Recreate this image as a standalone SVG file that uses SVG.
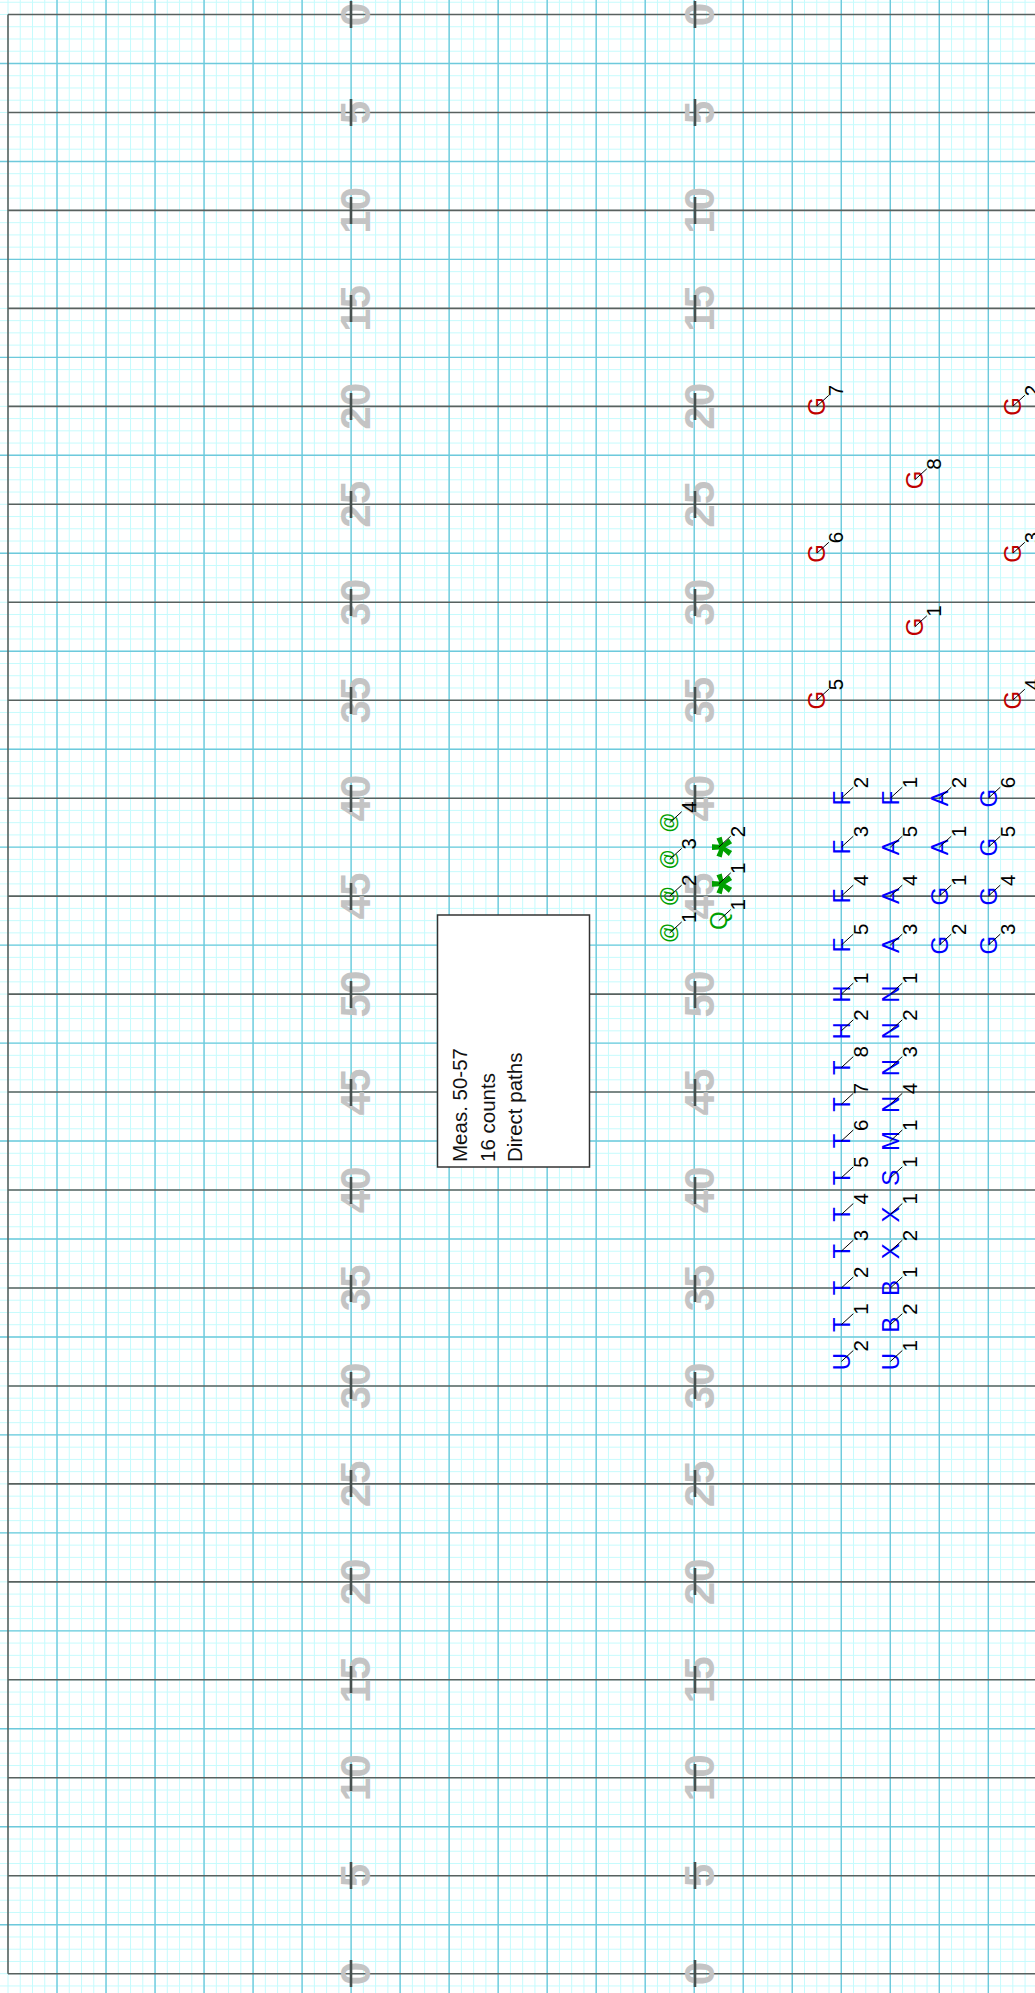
<svg xmlns="http://www.w3.org/2000/svg" width="1035" height="1993" viewBox="0 0 1035 1993">
<style>
.g path{fill:none;vector-effect:non-scaling-stroke}
.minor{stroke:#c6fbfd;stroke-width:1}
.med{stroke:#6ec9dc;stroke-width:1.4}
.yard{stroke:#59615f;stroke-width:1.6}
.tick{stroke:#46504f;stroke-width:2.6;fill:none}
.num{font-family:"Liberation Sans",Arial,sans-serif;font-weight:bold;font-size:42px;fill:#c4c4c4;text-anchor:middle}
.lt{font-family:"Liberation Sans",Arial,sans-serif;font-size:24px;text-anchor:middle}
.at{font-family:"Liberation Sans",Arial,sans-serif;font-size:20px;text-anchor:middle}
.ast{font-family:"Liberation Sans",Arial,sans-serif;font-weight:bold;font-size:54px;text-anchor:middle}
.red{fill:#c00000}.blue{fill:#0000ff}.grn{fill:#00a000}
.nm{font-family:"Liberation Sans",Arial,sans-serif;font-size:20.5px;fill:#000}
.ld{stroke:#000;stroke-width:1}
.box{fill:#fff;stroke:#333;stroke-width:1.5}
.bt{font-family:"Liberation Sans",Arial,sans-serif;font-size:20.5px;fill:#111}
</style>
<defs>
<g id="L-r"><line class="ld" x1="0" y1="0" x2="12" y2="-11"/></g>
</defs>
<rect width="1035" height="1993" fill="#fff"/>
<g id="grid" class="g" transform="translate(8,14.5) scale(12.254,12.245)">
<path class="minor" d="M-1 -1H85M-1 0H85M-1 1H85M-1 2H85M-1 3H85M-1 4H85M-1 5H85M-1 6H85M-1 7H85M-1 8H85M-1 9H85M-1 10H85M-1 11H85M-1 12H85M-1 13H85M-1 14H85M-1 15H85M-1 16H85M-1 17H85M-1 18H85M-1 19H85M-1 20H85M-1 21H85M-1 22H85M-1 23H85M-1 24H85M-1 25H85M-1 26H85M-1 27H85M-1 28H85M-1 29H85M-1 30H85M-1 31H85M-1 32H85M-1 33H85M-1 34H85M-1 35H85M-1 36H85M-1 37H85M-1 38H85M-1 39H85M-1 40H85M-1 41H85M-1 42H85M-1 43H85M-1 44H85M-1 45H85M-1 46H85M-1 47H85M-1 48H85M-1 49H85M-1 50H85M-1 51H85M-1 52H85M-1 53H85M-1 54H85M-1 55H85M-1 56H85M-1 57H85M-1 58H85M-1 59H85M-1 60H85M-1 61H85M-1 62H85M-1 63H85M-1 64H85M-1 65H85M-1 66H85M-1 67H85M-1 68H85M-1 69H85M-1 70H85M-1 71H85M-1 72H85M-1 73H85M-1 74H85M-1 75H85M-1 76H85M-1 77H85M-1 78H85M-1 79H85M-1 80H85M-1 81H85M-1 82H85M-1 83H85M-1 84H85M-1 85H85M-1 86H85M-1 87H85M-1 88H85M-1 89H85M-1 90H85M-1 91H85M-1 92H85M-1 93H85M-1 94H85M-1 95H85M-1 96H85M-1 97H85M-1 98H85M-1 99H85M-1 100H85M-1 101H85M-1 102H85M-1 103H85M-1 104H85M-1 105H85M-1 106H85M-1 107H85M-1 108H85M-1 109H85M-1 110H85M-1 111H85M-1 112H85M-1 113H85M-1 114H85M-1 115H85M-1 116H85M-1 117H85M-1 118H85M-1 119H85M-1 120H85M-1 121H85M-1 122H85M-1 123H85M-1 124H85M-1 125H85M-1 126H85M-1 127H85M-1 128H85M-1 129H85M-1 130H85M-1 131H85M-1 132H85M-1 133H85M-1 134H85M-1 135H85M-1 136H85M-1 137H85M-1 138H85M-1 139H85M-1 140H85M-1 141H85M-1 142H85M-1 143H85M-1 144H85M-1 145H85M-1 146H85M-1 147H85M-1 148H85M-1 149H85M-1 150H85M-1 151H85M-1 152H85M-1 153H85M-1 154H85M-1 155H85M-1 156H85M-1 157H85M-1 158H85M-1 159H85M-1 160H85M-1 161H85"/>
<path class="minor" d="M-1 -2V163M0 -2V163M1 -2V163M2 -2V163M3 -2V163M4 -2V163M5 -2V163M6 -2V163M7 -2V163M8 -2V163M9 -2V163M10 -2V163M11 -2V163M12 -2V163M13 -2V163M14 -2V163M15 -2V163M16 -2V163M17 -2V163M18 -2V163M19 -2V163M20 -2V163M21 -2V163M22 -2V163M23 -2V163M24 -2V163M25 -2V163M26 -2V163M27 -2V163M28 -2V163M29 -2V163M30 -2V163M31 -2V163M32 -2V163M33 -2V163M34 -2V163M35 -2V163M36 -2V163M37 -2V163M38 -2V163M39 -2V163M40 -2V163M41 -2V163M42 -2V163M43 -2V163M44 -2V163M45 -2V163M46 -2V163M47 -2V163M48 -2V163M49 -2V163M50 -2V163M51 -2V163M52 -2V163M53 -2V163M54 -2V163M55 -2V163M56 -2V163M57 -2V163M58 -2V163M59 -2V163M60 -2V163M61 -2V163M62 -2V163M63 -2V163M64 -2V163M65 -2V163M66 -2V163M67 -2V163M68 -2V163M69 -2V163M70 -2V163M71 -2V163M72 -2V163M73 -2V163M74 -2V163M75 -2V163M76 -2V163M77 -2V163M78 -2V163M79 -2V163M80 -2V163M81 -2V163M82 -2V163M83 -2V163"/>
<path class="med" d="M-1 4H85M-1 12H85M-1 20H85M-1 28H85M-1 36H85M-1 44H85M-1 52H85M-1 60H85M-1 68H85M-1 76H85M-1 84H85M-1 92H85M-1 100H85M-1 108H85M-1 116H85M-1 124H85M-1 132H85M-1 140H85M-1 148H85M-1 156H85"/>
<path class="med" d="M4 -2V163M8 -2V163M12 -2V163M16 -2V163M20 -2V163M24 -2V163M28 -2V163M32 -2V163M36 -2V163M40 -2V163M44 -2V163M48 -2V163M52 -2V163M56 -2V163M60 -2V163M64 -2V163M68 -2V163M72 -2V163M76 -2V163M80 -2V163"/>
<path class="yard" d="M0 0H85M0 8H85M0 16H85M0 24H85M0 32H85M0 40H85M0 48H85M0 56H85M0 64H85M0 72H85M0 80H85M0 88H85M0 96H85M0 104H85M0 112H85M0 120H85M0 128H85M0 136H85M0 144H85M0 152H85M0 160H85M0 0V160"/>
</g>
<g id="yard-numbers" class="num">
<text transform="translate(370,14.5) rotate(-90)">0</text>
<text transform="translate(370,112.5) rotate(-90)">5</text>
<text transform="translate(370,210.4) rotate(-90)">10</text>
<text transform="translate(370,308.4) rotate(-90)">15</text>
<text transform="translate(370,406.3) rotate(-90)">20</text>
<text transform="translate(370,504.3) rotate(-90)">25</text>
<text transform="translate(370,602.3) rotate(-90)">30</text>
<text transform="translate(370,700.2) rotate(-90)">35</text>
<text transform="translate(370,798.2) rotate(-90)">40</text>
<text transform="translate(370,896.1) rotate(-90)">45</text>
<text transform="translate(370,994.1) rotate(-90)">50</text>
<text transform="translate(370,1092.1) rotate(-90)">45</text>
<text transform="translate(370,1190) rotate(-90)">40</text>
<text transform="translate(370,1288) rotate(-90)">35</text>
<text transform="translate(370,1385.9) rotate(-90)">30</text>
<text transform="translate(370,1483.9) rotate(-90)">25</text>
<text transform="translate(370,1581.9) rotate(-90)">20</text>
<text transform="translate(370,1679.8) rotate(-90)">15</text>
<text transform="translate(370,1777.8) rotate(-90)">10</text>
<text transform="translate(370,1875.7) rotate(-90)">5</text>
<text transform="translate(370,1973.7) rotate(-90)">0</text>
<text transform="translate(714,14.5) rotate(-90)">0</text>
<text transform="translate(714,112.5) rotate(-90)">5</text>
<text transform="translate(714,210.4) rotate(-90)">10</text>
<text transform="translate(714,308.4) rotate(-90)">15</text>
<text transform="translate(714,406.3) rotate(-90)">20</text>
<text transform="translate(714,504.3) rotate(-90)">25</text>
<text transform="translate(714,602.3) rotate(-90)">30</text>
<text transform="translate(714,700.2) rotate(-90)">35</text>
<text transform="translate(714,798.2) rotate(-90)">40</text>
<text transform="translate(714,896.1) rotate(-90)">45</text>
<text transform="translate(714,994.1) rotate(-90)">50</text>
<text transform="translate(714,1092.1) rotate(-90)">45</text>
<text transform="translate(714,1190) rotate(-90)">40</text>
<text transform="translate(714,1288) rotate(-90)">35</text>
<text transform="translate(714,1385.9) rotate(-90)">30</text>
<text transform="translate(714,1483.9) rotate(-90)">25</text>
<text transform="translate(714,1581.9) rotate(-90)">20</text>
<text transform="translate(714,1679.8) rotate(-90)">15</text>
<text transform="translate(714,1777.8) rotate(-90)">10</text>
<text transform="translate(714,1875.7) rotate(-90)">5</text>
<text transform="translate(714,1973.7) rotate(-90)">0</text>
</g>
<g id="hash-ticks">
<path class="tick" d="M351 1v27M351 99v27M351 197v27M351 295v27M351 393v27M351 491v27M351 589v27M351 687v27M351 785v27M351 883v27M351 981v27M351 1079v27M351 1177v27M351 1275v27M351 1372v27M351 1470v27M351 1568v27M351 1666v27M351 1764v27M351 1862v27M351 1960v27"/>
<path class="tick" d="M695 1v27M695 99v27M695 197v27M695 295v27M695 393v27M695 491v27M695 589v27M695 687v27M695 785v27M695 883v27M695 981v27M695 1079v27M695 1177v27M695 1275v27M695 1372v27M695 1470v27M695 1568v27M695 1666v27M695 1764v27M695 1862v27M695 1960v27"/>
</g>
<g id="note-box">
<rect class="box" x="437.5" y="915" width="152" height="252"/>
<text class="bt" transform="translate(466.7,1162) rotate(-90)">Meas. 50-57</text>
<text class="bt" transform="translate(494.5,1162) rotate(-90)">16 counts</text>
<text class="bt" transform="translate(522.3,1162) rotate(-90)">Direct paths</text>
</g>
<g id="performers">
<g id="rG7" transform="translate(816.8,406.3)"><text class="lt red" transform="translate(8.6,0) rotate(-90)">G</text><use href="#L-r"/><text class="nm" transform="translate(26.5,-10) rotate(-90)">7</text></g>
<g id="rG6" transform="translate(816.8,553.3)"><text class="lt red" transform="translate(8.6,0) rotate(-90)">G</text><use href="#L-r"/><text class="nm" transform="translate(26.5,-10) rotate(-90)">6</text></g>
<g id="rG5" transform="translate(816.8,700.2)"><text class="lt red" transform="translate(8.6,0) rotate(-90)">G</text><use href="#L-r"/><text class="nm" transform="translate(26.5,-10) rotate(-90)">5</text></g>
<g id="rG8" transform="translate(914.8,479.8)"><text class="lt red" transform="translate(8.6,0) rotate(-90)">G</text><use href="#L-r"/><text class="nm" transform="translate(26.5,-10) rotate(-90)">8</text></g>
<g id="rG1" transform="translate(914.8,626.8)"><text class="lt red" transform="translate(8.6,0) rotate(-90)">G</text><use href="#L-r"/><text class="nm" transform="translate(26.5,-10) rotate(-90)">1</text></g>
<g id="rG2" transform="translate(1012.8,406.3)"><text class="lt red" transform="translate(8.6,0) rotate(-90)">G</text><use href="#L-r"/><text class="nm" transform="translate(26.5,-10) rotate(-90)">2</text></g>
<g id="rG3" transform="translate(1012.8,553.3)"><text class="lt red" transform="translate(8.6,0) rotate(-90)">G</text><use href="#L-r"/><text class="nm" transform="translate(26.5,-10) rotate(-90)">3</text></g>
<g id="rG4" transform="translate(1012.8,700.2)"><text class="lt red" transform="translate(8.6,0) rotate(-90)">G</text><use href="#L-r"/><text class="nm" transform="translate(26.5,-10) rotate(-90)">4</text></g>

<g id="at4" transform="translate(669.7,822.7)"><text class="at grn" transform="translate(5.2,0) rotate(-90)">@</text><use href="#L-r"/><text class="nm" transform="translate(26.5,-10) rotate(-90)">4</text></g>
<g id="at3" transform="translate(669.7,859.4)"><text class="at grn" transform="translate(5.2,0) rotate(-90)">@</text><use href="#L-r"/><text class="nm" transform="translate(26.5,-10) rotate(-90)">3</text></g>
<g id="at2" transform="translate(669.7,896.1)"><text class="at grn" transform="translate(5.2,0) rotate(-90)">@</text><use href="#L-r"/><text class="nm" transform="translate(26.5,-10) rotate(-90)">2</text></g>
<g id="at1" transform="translate(669.7,932.9)"><text class="at grn" transform="translate(5.2,0) rotate(-90)">@</text><use href="#L-r"/><text class="nm" transform="translate(26.5,-10) rotate(-90)">1</text></g>
<g id="ast2" transform="translate(718.7,847.2)"><text class="ast grn" transform="translate(30.2,0) rotate(-90)">*</text><use href="#L-r"/><text class="nm" transform="translate(26.5,-10) rotate(-90)">2</text></g>
<g id="ast1" transform="translate(718.7,883.9)"><text class="ast grn" transform="translate(30.2,0) rotate(-90)">*</text><use href="#L-r"/><text class="nm" transform="translate(26.5,-10) rotate(-90)">1</text></g>
<g id="Q1" transform="translate(718.7,920.6)"><text class="lt grn" transform="translate(8.6,0) rotate(-90)">Q</text><use href="#L-r"/><text class="nm" transform="translate(26.5,-10) rotate(-90)">1</text></g>

<g id="F2" transform="translate(841.3,798.2)"><text class="lt blue" transform="translate(8.6,0) rotate(-90)">F</text><use href="#L-r"/><text class="nm" transform="translate(26.5,-10) rotate(-90)">2</text></g>
<g id="F3" transform="translate(841.3,847.2)"><text class="lt blue" transform="translate(8.6,0) rotate(-90)">F</text><use href="#L-r"/><text class="nm" transform="translate(26.5,-10) rotate(-90)">3</text></g>
<g id="F4" transform="translate(841.3,896.1)"><text class="lt blue" transform="translate(8.6,0) rotate(-90)">F</text><use href="#L-r"/><text class="nm" transform="translate(26.5,-10) rotate(-90)">4</text></g>
<g id="F5" transform="translate(841.3,945.1)"><text class="lt blue" transform="translate(8.6,0) rotate(-90)">F</text><use href="#L-r"/><text class="nm" transform="translate(26.5,-10) rotate(-90)">5</text></g>
<g id="H1" transform="translate(841.3,994.1)"><text class="lt blue" transform="translate(8.6,0) rotate(-90)">H</text><use href="#L-r"/><text class="nm" transform="translate(26.5,-10) rotate(-90)">1</text></g>
<g id="H2" transform="translate(841.3,1030.8)"><text class="lt blue" transform="translate(8.6,0) rotate(-90)">H</text><use href="#L-r"/><text class="nm" transform="translate(26.5,-10) rotate(-90)">2</text></g>
<g id="T8" transform="translate(841.3,1067.6)"><text class="lt blue" transform="translate(8.6,0) rotate(-90)">T</text><use href="#L-r"/><text class="nm" transform="translate(26.5,-10) rotate(-90)">8</text></g>
<g id="T7" transform="translate(841.3,1104.3)"><text class="lt blue" transform="translate(8.6,0) rotate(-90)">T</text><use href="#L-r"/><text class="nm" transform="translate(26.5,-10) rotate(-90)">7</text></g>
<g id="T6" transform="translate(841.3,1141)"><text class="lt blue" transform="translate(8.6,0) rotate(-90)">T</text><use href="#L-r"/><text class="nm" transform="translate(26.5,-10) rotate(-90)">6</text></g>
<g id="T5" transform="translate(841.3,1177.8)"><text class="lt blue" transform="translate(8.6,0) rotate(-90)">T</text><use href="#L-r"/><text class="nm" transform="translate(26.5,-10) rotate(-90)">5</text></g>
<g id="T4" transform="translate(841.3,1214.5)"><text class="lt blue" transform="translate(8.6,0) rotate(-90)">T</text><use href="#L-r"/><text class="nm" transform="translate(26.5,-10) rotate(-90)">4</text></g>
<g id="T3" transform="translate(841.3,1251.2)"><text class="lt blue" transform="translate(8.6,0) rotate(-90)">T</text><use href="#L-r"/><text class="nm" transform="translate(26.5,-10) rotate(-90)">3</text></g>
<g id="T2" transform="translate(841.3,1288)"><text class="lt blue" transform="translate(8.6,0) rotate(-90)">T</text><use href="#L-r"/><text class="nm" transform="translate(26.5,-10) rotate(-90)">2</text></g>
<g id="T1" transform="translate(841.3,1324.7)"><text class="lt blue" transform="translate(8.6,0) rotate(-90)">T</text><use href="#L-r"/><text class="nm" transform="translate(26.5,-10) rotate(-90)">1</text></g>
<g id="U2" transform="translate(841.3,1361.5)"><text class="lt blue" transform="translate(8.6,0) rotate(-90)">U</text><use href="#L-r"/><text class="nm" transform="translate(26.5,-10) rotate(-90)">2</text></g>

<g id="F1" transform="translate(890.3,798.2)"><text class="lt blue" transform="translate(8.6,0) rotate(-90)">F</text><use href="#L-r"/><text class="nm" transform="translate(26.5,-10) rotate(-90)">1</text></g>
<g id="A5" transform="translate(890.3,847.2)"><text class="lt blue" transform="translate(8.6,0) rotate(-90)">A</text><use href="#L-r"/><text class="nm" transform="translate(26.5,-10) rotate(-90)">5</text></g>
<g id="A4" transform="translate(890.3,896.1)"><text class="lt blue" transform="translate(8.6,0) rotate(-90)">A</text><use href="#L-r"/><text class="nm" transform="translate(26.5,-10) rotate(-90)">4</text></g>
<g id="A3" transform="translate(890.3,945.1)"><text class="lt blue" transform="translate(8.6,0) rotate(-90)">A</text><use href="#L-r"/><text class="nm" transform="translate(26.5,-10) rotate(-90)">3</text></g>
<g id="N1" transform="translate(890.3,994.1)"><text class="lt blue" transform="translate(8.6,0) rotate(-90)">N</text><use href="#L-r"/><text class="nm" transform="translate(26.5,-10) rotate(-90)">1</text></g>
<g id="N2" transform="translate(890.3,1030.8)"><text class="lt blue" transform="translate(8.6,0) rotate(-90)">N</text><use href="#L-r"/><text class="nm" transform="translate(26.5,-10) rotate(-90)">2</text></g>
<g id="N3" transform="translate(890.3,1067.6)"><text class="lt blue" transform="translate(8.6,0) rotate(-90)">N</text><use href="#L-r"/><text class="nm" transform="translate(26.5,-10) rotate(-90)">3</text></g>
<g id="N4" transform="translate(890.3,1104.3)"><text class="lt blue" transform="translate(8.6,0) rotate(-90)">N</text><use href="#L-r"/><text class="nm" transform="translate(26.5,-10) rotate(-90)">4</text></g>
<g id="M1" transform="translate(890.3,1141)"><text class="lt blue" transform="translate(8.6,0) rotate(-90)">M</text><use href="#L-r"/><text class="nm" transform="translate(26.5,-10) rotate(-90)">1</text></g>
<g id="S1" transform="translate(890.3,1177.8)"><text class="lt blue" transform="translate(8.6,0) rotate(-90)">S</text><use href="#L-r"/><text class="nm" transform="translate(26.5,-10) rotate(-90)">1</text></g>
<g id="X1" transform="translate(890.3,1214.5)"><text class="lt blue" transform="translate(8.6,0) rotate(-90)">X</text><use href="#L-r"/><text class="nm" transform="translate(26.5,-10) rotate(-90)">1</text></g>
<g id="X2" transform="translate(890.3,1251.2)"><text class="lt blue" transform="translate(8.6,0) rotate(-90)">X</text><use href="#L-r"/><text class="nm" transform="translate(26.5,-10) rotate(-90)">2</text></g>
<g id="B1" transform="translate(890.3,1288)"><text class="lt blue" transform="translate(8.6,0) rotate(-90)">B</text><use href="#L-r"/><text class="nm" transform="translate(26.5,-10) rotate(-90)">1</text></g>
<g id="B2" transform="translate(890.3,1324.7)"><text class="lt blue" transform="translate(8.6,0) rotate(-90)">B</text><use href="#L-r"/><text class="nm" transform="translate(26.5,-10) rotate(-90)">2</text></g>
<g id="U1" transform="translate(890.3,1361.5)"><text class="lt blue" transform="translate(8.6,0) rotate(-90)">U</text><use href="#L-r"/><text class="nm" transform="translate(26.5,-10) rotate(-90)">1</text></g>

<g id="A2" transform="translate(939.3,798.2)"><text class="lt blue" transform="translate(8.6,0) rotate(-90)">A</text><use href="#L-r"/><text class="nm" transform="translate(26.5,-10) rotate(-90)">2</text></g>
<g id="A1" transform="translate(939.3,847.2)"><text class="lt blue" transform="translate(8.6,0) rotate(-90)">A</text><use href="#L-r"/><text class="nm" transform="translate(26.5,-10) rotate(-90)">1</text></g>
<g id="bG1" transform="translate(939.3,896.1)"><text class="lt blue" transform="translate(8.6,0) rotate(-90)">G</text><use href="#L-r"/><text class="nm" transform="translate(26.5,-10) rotate(-90)">1</text></g>
<g id="bG2" transform="translate(939.3,945.1)"><text class="lt blue" transform="translate(8.6,0) rotate(-90)">G</text><use href="#L-r"/><text class="nm" transform="translate(26.5,-10) rotate(-90)">2</text></g>
<g id="bG6" transform="translate(988.3,798.2)"><text class="lt blue" transform="translate(8.6,0) rotate(-90)">G</text><use href="#L-r"/><text class="nm" transform="translate(26.5,-10) rotate(-90)">6</text></g>
<g id="bG5" transform="translate(988.3,847.2)"><text class="lt blue" transform="translate(8.6,0) rotate(-90)">G</text><use href="#L-r"/><text class="nm" transform="translate(26.5,-10) rotate(-90)">5</text></g>
<g id="bG4" transform="translate(988.3,896.1)"><text class="lt blue" transform="translate(8.6,0) rotate(-90)">G</text><use href="#L-r"/><text class="nm" transform="translate(26.5,-10) rotate(-90)">4</text></g>
<g id="bG3" transform="translate(988.3,945.1)"><text class="lt blue" transform="translate(8.6,0) rotate(-90)">G</text><use href="#L-r"/><text class="nm" transform="translate(26.5,-10) rotate(-90)">3</text></g>
</g>
</svg>
